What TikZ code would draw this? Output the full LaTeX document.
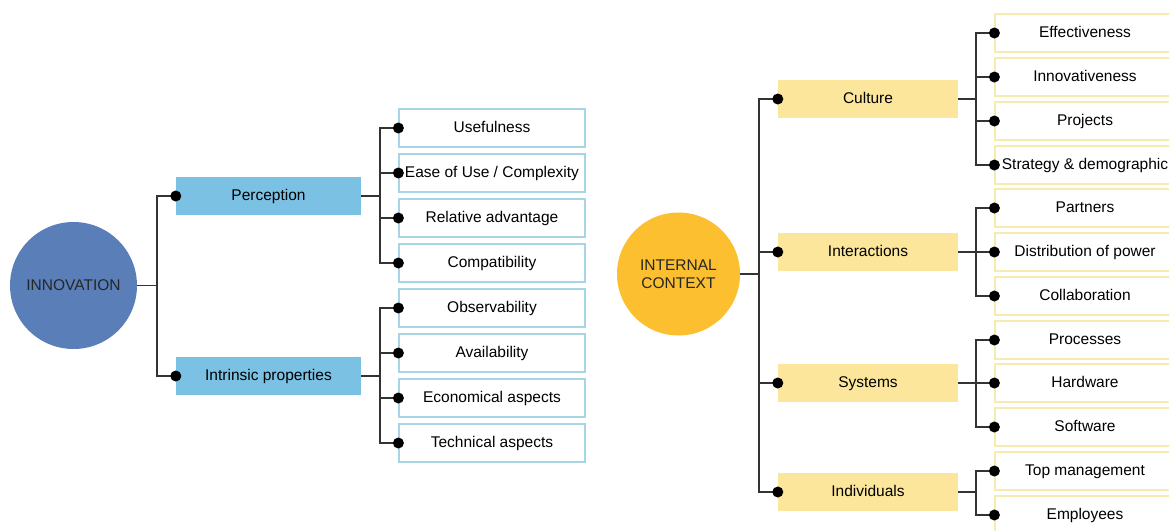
\documentclass[tikz,border=0pt]{standalone}
\usepackage{fontspec}
\setmainfont{Liberation Sans}
\begin{document}
\begin{tikzpicture}[x=1pt,y=-1pt,
  font=\fontsize{15.5}{18.5}\selectfont,
  conn/.style={draw=black!80,line width=1.7pt},
  dot/.style={circle,fill=black,inner sep=0pt,minimum size=11pt},
  boxtext/.style={text height=11pt,text depth=3pt},
  bluemid/.style={rectangle,fill=midblue,minimum width=185pt,minimum height=38pt,inner sep=0pt,boxtext},
  yelmid/.style={rectangle,fill=midyel,minimum width=180pt,minimum height=38pt,inner sep=0pt,boxtext},
  blueleaf/.style={rectangle,draw=leafblue,line width=1.2pt,fill=white,minimum width=186pt,minimum height=38pt,inner sep=0pt,boxtext},
  yelleaf/.style={rectangle,draw=leafyel,line width=1.2pt,fill=white,minimum width=180pt,minimum height=38pt,inner sep=0pt,boxtext},
]
\definecolor{midblue}{HTML}{7AC1E4}
\definecolor{midyel}{HTML}{FBE69C}
\definecolor{leafblue}{HTML}{A6D6E6}
\definecolor{leafyel}{HTML}{F6ECB0}
\definecolor{innblue}{HTML}{5A7FB8}
\definecolor{ctxyel}{HTML}{FBBF30}
\useasboundingbox (0,0) rectangle (1169,530);
\clip (0,0) rectangle (1169,530);

% ---------- left tree ----------
\node[circle,fill=innblue,minimum size=127pt,inner sep=0pt,text=black!85] (inn) at (73.5,285.5) {INNOVATION};
\node[bluemid] (perc) at (268.5,196) {Perception};
\node[bluemid] (intr) at (268.5,376) {Intrinsic properties};

\node[blueleaf] (l1) at (492,128) {Usefulness};
\node[blueleaf] (l2) at (492,173) {Ease of Use / Complexity};
\node[blueleaf] (l3) at (492,218) {Relative advantage};
\node[blueleaf] (l4) at (492,263) {Compatibility};
\node[blueleaf] (l5) at (492,308) {Observability};
\node[blueleaf] (l6) at (492,353) {Availability};
\node[blueleaf] (l7) at (492,398) {Economical aspects};
\node[blueleaf] (l8) at (492,443) {Technical aspects};

\foreach \m in {perc,intr} \draw[conn] (inn.east) -- (157,285.5) |- (\m.west);
\foreach \l in {l1,l2,l3,l4} \draw[conn] (perc.east) -- (380,196) |- (\l.west);
\foreach \l in {l5,l6,l7,l8} \draw[conn] (intr.east) -- (380,376) |- (\l.west);
\foreach \n in {perc,intr,l1,l2,l3,l4,l5,l6,l7,l8} \node[dot] at (\n.west) {};

% ---------- right tree ----------
\node[circle,fill=ctxyel,minimum size=123pt,inner sep=0pt,text=black!85,align=center] (ctx) at (678.5,274) {INTERNAL\\CONTEXT};
\node[yelmid] (cul) at (868,99) {Culture};
\node[yelmid] (int) at (868,252) {Interactions};
\node[yelmid] (sys) at (868,383) {Systems};
\node[yelmid] (ind) at (868,492) {Individuals};

\node[yelleaf] (r1) at (1085,33) {Effectiveness};
\node[yelleaf] (r2) at (1085,77) {Innovativeness};
\node[yelleaf] (r3) at (1085,121) {Projects};
\node[yelleaf] (r4) at (1085,165) {Strategy \& demographic};
\node[yelleaf] (r5) at (1085,208) {Partners};
\node[yelleaf] (r6) at (1085,252) {Distribution of power};
\node[yelleaf] (r7) at (1085,296) {Collaboration};
\node[yelleaf] (r8) at (1085,340) {Processes};
\node[yelleaf] (r9) at (1085,383) {Hardware};
\node[yelleaf] (r10) at (1085,427) {Software};
\node[yelleaf] (r11) at (1085,471) {Top management};
\node[yelleaf] (r12) at (1085,515) {Employees};

\foreach \m in {cul,int,sys,ind} \draw[conn] (ctx.east) -- (759,274) |- (\m.west);
\foreach \l in {r1,r2,r3,r4} \draw[conn] (cul.east) -- (976,99) |- (\l.west);
\foreach \l in {r5,r6,r7} \draw[conn] (int.east) -- (976,252) |- (\l.west);
\foreach \l in {r8,r9,r10} \draw[conn] (sys.east) -- (976,383) |- (\l.west);
\foreach \l in {r11,r12} \draw[conn] (ind.east) -- (976,492) |- (\l.west);
\foreach \n in {cul,int,sys,ind,r1,r2,r3,r4,r5,r6,r7,r8,r9,r10,r11,r12} \node[dot] at (\n.west) {};
\end{tikzpicture}
\end{document}
